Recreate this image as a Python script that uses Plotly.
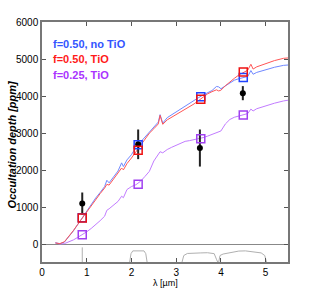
import plotly.graph_objects as go

# Model wavelength grid (micron)
wl = [0.30, 0.40, 0.50, 0.60, 0.70, 0.80, 0.90, 1.00, 1.10, 1.20, 1.30, 1.40, 1.45, 1.50,
      1.60, 1.70, 1.78, 1.82, 1.90, 2.00, 2.10, 2.20, 2.30, 2.40, 2.50, 2.60, 2.64, 2.70,
      2.80, 2.90, 3.00, 3.10, 3.20, 3.30, 3.40, 3.50, 3.60, 3.70, 3.80, 3.90, 3.95, 4.00,
      4.10, 4.20, 4.30, 4.40, 4.50, 4.60, 4.67, 4.72, 4.80, 5.00, 5.20, 5.40, 5.50]

model_noTiO_050 = [40, 20, 60, 200, 360, 540, 720, 900, 1060, 1250, 1400, 1560, 1730, 1660,
                   1820, 1980, 2200, 2100, 2280, 2420, 2620, 2760, 2900, 3050, 3170, 3300, 3500, 3270,
                   3420, 3500, 3560, 3640, 3720, 3820, 3880, 3960, 4030, 4090, 4150, 4260, 4250, 4200,
                   4280, 4360, 4430, 4470, 4500, 4530, 4690, 4590, 4640, 4720, 4780, 4830, 4840]

model_TiO_050 = [40, 20, 70, 210, 370, 540, 710, 880, 1040, 1220, 1370, 1520, 1620, 1600,
                 1760, 1920, 2060, 2010, 2180, 2330, 2500, 2640, 2820, 3000, 3120, 3250, 3480, 3240,
                 3360, 3430, 3490, 3560, 3630, 3710, 3790, 3880, 3970, 4060, 4120, 4170, 4140, 4160,
                 4280, 4390, 4480, 4570, 4640, 4700, 4860, 4730, 4790, 4880, 4960, 5020, 5030]

model_TiO_025 = [40, 10, 20, 60, 120, 190, 260, 340, 430, 530, 640, 760, 920, 960,
                 1060, 1160, 1300, 1260, 1480, 1560, 1610, 1700, 1830, 1970, 2250, 2420, 2500, 2470,
                 2560, 2620, 2670, 2720, 2780, 2800, 2820, 2850, 2880, 2920, 2970, 3020, 3040, 3060,
                 3250, 3370, 3430, 3470, 3500, 3530, 3650, 3600, 3660, 3740, 3810, 3870, 3890]

# Band-integrated model values
band_wl = [0.90, 2.15, 3.55, 4.50]
band_noTiO_050 = [720, 2690, 3985, 4500]
band_TiO_050 = [713, 2540, 3915, 4650]
band_TiO_025 = [260, 1625, 2850, 3490]

# Observations
obs_wl = [0.90, 2.15, 3.53, 4.49]
obs_depth = [1100, 2700, 2600, 4080]
obs_err = [300, 400, 500, 190]

# Filter transmission curves (plotted below zero)
f1_x = [0.90, 0.90]
f1_y = [-480, -80]
fk_x = [1.96, 1.99, 2.03, 2.15, 2.28, 2.32, 2.35]
fk_y = [-480, -250, -175, -170, -175, -250, -480]
fi1_x = [3.13, 3.17, 3.25, 3.40, 3.55, 3.70, 3.85, 3.90, 3.93]
fi1_y = [-480, -300, -245, -230, -230, -225, -250, -400, -480]
fi2_x = [3.95, 3.98, 4.05, 4.20, 4.40, 4.55, 4.75, 4.90, 4.98, 5.02]
fi2_y = [-480, -300, -260, -230, -180, -175, -200, -230, -300, -480]

xticks = [0, 1, 2, 3, 4, 5]
yticks = [0, 1000, 2000, 3000, 4000, 5000, 6000]

labels = ["f=0.50, no TiO", "f=0.50, TiO", "f=0.25, TiO"]
label_colors = ["#3355ff", "#ff1a1a", "#aa33ff"]

fig = go.Figure()

for fx, fy in [(f1_x, f1_y), (fk_x, fk_y), (fi1_x, fi1_y), (fi2_x, fi2_y)]:
    fig.add_trace(go.Scatter(x=fx, y=fy, mode="lines",
                             line=dict(color="#b0b0b0", width=1), showlegend=False))

fig.add_trace(go.Scatter(x=wl, y=model_TiO_025, mode="lines",
                         line=dict(color="#c27cff", width=1), showlegend=False))
fig.add_trace(go.Scatter(x=wl, y=model_noTiO_050, mode="lines",
                         line=dict(color="#7088ff", width=1), showlegend=False))
fig.add_trace(go.Scatter(x=wl, y=model_TiO_050, mode="lines",
                         line=dict(color="#ff5555", width=1), showlegend=False))

fig.add_trace(go.Scatter(x=obs_wl, y=obs_depth, mode="markers",
                         marker=dict(color="black", size=6),
                         error_y=dict(type="data", array=obs_err, color="#222222",
                                      thickness=2, width=0),
                         showlegend=False))

for bv, col in [(band_noTiO_050, "#2244ff"), (band_TiO_050, "#ee1111"), (band_TiO_025, "#a040f0")]:
    fig.add_trace(go.Scatter(x=band_wl, y=bv, mode="markers",
                             marker=dict(symbol="square-open", size=8, color=col,
                                         line=dict(width=1.5, color=col)),
                             showlegend=False))

for i, (lab, col) in enumerate(zip(labels, label_colors)):
    fig.add_annotation(x=0.035, xref="paper", y=0.942 - i * 0.064, yref="paper",
                       text="<b>%s</b>" % lab, showarrow=False, xanchor="left",
                       font=dict(family="Liberation Sans, Arial", size=11, color=col))

fig.add_annotation(x=-0.122, xref="paper", y=0.49, yref="paper", textangle=-90,
                   xanchor="center", yanchor="middle",
                   text="<b><i>Occultation depth [ppm]</i></b>", showarrow=False,
                   font=dict(family="Liberation Sans, Arial", size=11, color="black"))
fig.add_annotation(x=0.5, xref="paper", y=-0.088, yref="paper",
                   xanchor="center", yanchor="middle",
                   text="λ [µm]", showarrow=False,
                   font=dict(family="Liberation Sans, Arial", size=9, color="black"))

axis_common = dict(showgrid=False, ticks="inside", ticklen=4, tickcolor="#555",
                   showline=True, linecolor="#777", linewidth=1.5, mirror="ticks",
                   tickfont=dict(family="Liberation Sans, Arial", size=10, color="black"))

fig.update_xaxes(range=[0, 5.5], tickvals=xticks, zeroline=False, **axis_common)
fig.update_yaxes(range=[-475, 6000], tickvals=yticks, zeroline=True,
                 zerolinecolor="#888", zerolinewidth=1, **axis_common)

fig.update_layout(width=319, height=296, margin=dict(l=42, r=31, t=22, b=34),
                  plot_bgcolor="white", paper_bgcolor="white", showlegend=False)

fig.write_html("out.html", config={"displayModeBar": False},
               post_script="document.body.style.margin='0';")
